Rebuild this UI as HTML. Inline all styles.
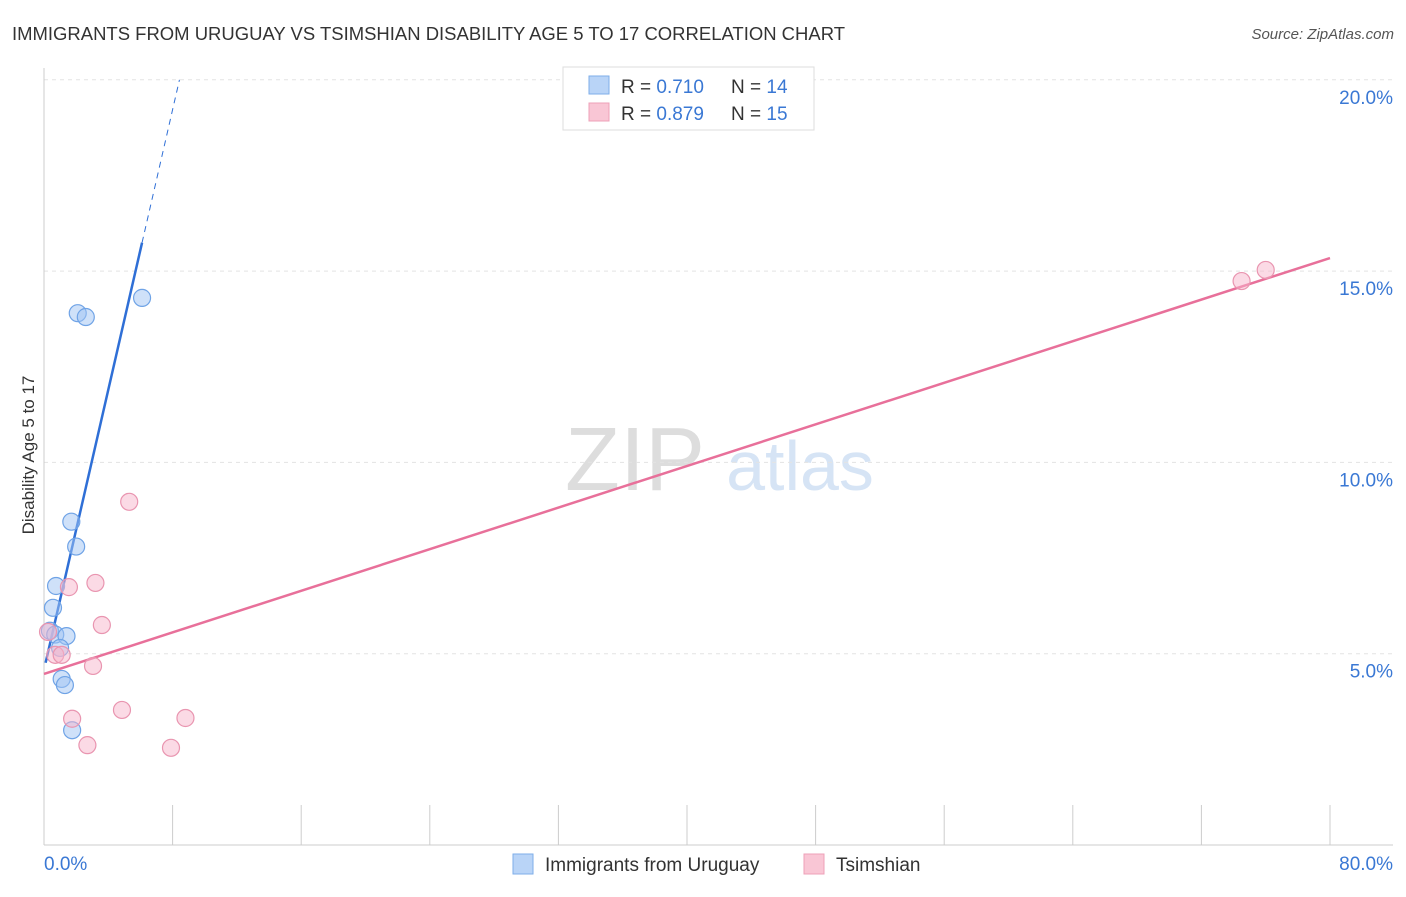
<!DOCTYPE html>
<html><head><meta charset="utf-8"><style>
body{margin:0;background:#fff;font-family:"Liberation Sans",sans-serif;}
svg text{font-family:"Liberation Sans",sans-serif;}
</style></head><body>
<svg width="1406" height="892" id="chart">
<text x="12" y="40" font-size="18" fill="#333" textLength="833" lengthAdjust="spacingAndGlyphs">IMMIGRANTS FROM URUGUAY VS TSIMSHIAN DISABILITY AGE 5 TO 17 CORRELATION CHART</text>
<text x="1394" y="39" font-size="15" fill="#555" text-anchor="end" font-style="italic">Source: ZipAtlas.com</text>
<text x="34" y="455" font-size="17" fill="#333" text-anchor="middle" transform="rotate(-90 34 455)">Disability Age 5 to 17</text>
<g>
<text x="635" y="490" font-size="90" fill="#ddd" text-anchor="middle" font-family="Liberation Serif">ZIP</text>
<text x="800" y="490" font-size="70" fill="#d6e4f5" text-anchor="middle">atlas</text>
</g>
<g id="grid"></g><g id="axes"></g><g id="lines"></g><g id="points"></g>
<g>
<rect x="563" y="67" width="251" height="63" fill="#fff" stroke="#ddd"/>
<rect x="589" y="76" width="20" height="18" fill="#b9d4f7" stroke="#7eaee9"/>
<text x="621" y="93" font-size="19" fill="#333">R = <tspan fill="#3a78d4">0.710</tspan></text>
<text x="731" y="93" font-size="19" fill="#333">N = <tspan fill="#3a78d4">14</tspan></text>
<rect x="589" y="103" width="20" height="18" fill="#f9c6d5" stroke="#eea0b8"/>
<text x="621" y="120" font-size="19" fill="#333">R = <tspan fill="#3a78d4">0.879</tspan></text>
<text x="731" y="120" font-size="19" fill="#333">N = <tspan fill="#3a78d4">15</tspan></text>
</g>
<g>
<rect x="513" y="854" width="20" height="20" fill="#b9d4f7" stroke="#7eaee9"/>
<text x="545" y="871" font-size="19" fill="#333">Immigrants from Uruguay</text>
<rect x="804" y="854" width="20" height="20" fill="#f9c6d5" stroke="#eea0b8"/>
<text x="836" y="871" font-size="19" fill="#333">Tsimshian</text>
</g>
</svg>
<script>
const uruguayX=[2.1,2.6,6.1,1.7,2.0,0.75,0.56,0.37,0.7,1.4,1.0,1.1,1.3,1.75];
const uruguayY=[13.9,13.8,14.3,8.45,7.8,6.77,6.2,5.6,5.5,5.46,5.15,4.34,4.18,3.0];
const tsimX=[76,74.5,5.3,3.2,1.55,3.6,0.25,0.7,1.1,3.05,4.85,1.75,8.8,2.7,7.9];
const tsimY=[15.03,14.74,8.97,6.85,6.74,5.75,5.57,4.97,4.97,4.68,3.53,3.3,3.32,2.61,2.54];
const yTicks=[5,10,15,20];
const yTickLabels=["5.0%","10.0%","15.0%","20.0%"];
const xTicks=[0,8,16,24,32,40,48,56,64,72,80];
const uruguayFit=[4.58,1.83];
const tsimFit=[4.47,0.1359];
const NS="http://www.w3.org/2000/svg";
const xs=v=>44+v*16.075, ys=v=>845-v*38.26;
function mk(t,a,p){const e=document.createElementNS(NS,t);for(const k in a)e.setAttribute(k,a[k]);document.getElementById(p).appendChild(e);return e;}
yTicks.forEach((t,i)=>{
 const g=mk('line',{x1:44,x2:1393,y1:ys(t),y2:ys(t),stroke:'#e3e3e3','stroke-dasharray':'4 4'},'grid');
 
 
 const l=mk('text',{x:1393,y:ys(t)+24,'font-size':19,fill:'#3a78d4','text-anchor':'end'},'axes');
 l.textContent=yTickLabels[i];
 
 
});
const ax=mk('line',{x1:44,x2:44,y1:68,y2:845,stroke:'#ccc'},'axes');


const bx=mk('line',{x1:44,x2:1393,y1:845,y2:845,stroke:'#ccc'},'axes');


xTicks.forEach(t=>{const e=mk('line',{x1:xs(t),x2:xs(t),y1:805,y2:845,stroke:'#ccc'},'axes');
 
 });
[[0,'start',44,"0.0%"],[80,'end',1393,"80.0%"]].forEach(d=>{const e=mk('text',{x:d[2],y:870,'font-size':19,fill:'#3a78d4','text-anchor':d[1]},'axes');e.textContent=d[3];
 
 });
const ux1=6.1, ux2=(20-uruguayFit[0])/uruguayFit[1];
let e=mk('line',{x1:xs(0.1),y1:ys(uruguayFit[0]+uruguayFit[1]*0.1),x2:xs(ux1),y2:ys(uruguayFit[0]+uruguayFit[1]*ux1),stroke:'#2f6fd6','stroke-width':2.5},'lines');


e=mk('line',{x1:xs(ux1),y1:ys(uruguayFit[0]+uruguayFit[1]*ux1),x2:xs(ux2),y2:ys(20),stroke:'#2f6fd6','stroke-width':1,'stroke-dasharray':'6 5'},'lines');


e=mk('line',{x1:xs(0),y1:ys(tsimFit[0]),x2:xs(80),y2:ys(tsimFit[0]+tsimFit[1]*80),stroke:'#e8709a','stroke-width':2.5},'lines');


uruguayX.forEach((x,i)=>{const c=mk('circle',{cx:xs(x),cy:ys(uruguayY[i]),r:8.5,fill:'rgba(160,196,243,0.5)',stroke:'#6fa3e6','stroke-width':1.2},'points');
 
 });
tsimX.forEach((x,i)=>{const c=mk('circle',{cx:xs(x),cy:ys(tsimY[i]),r:8.5,fill:'rgba(247,182,203,0.5)',stroke:'#e995b0','stroke-width':1.2},'points');
 
 });
</script>
</body></html>
